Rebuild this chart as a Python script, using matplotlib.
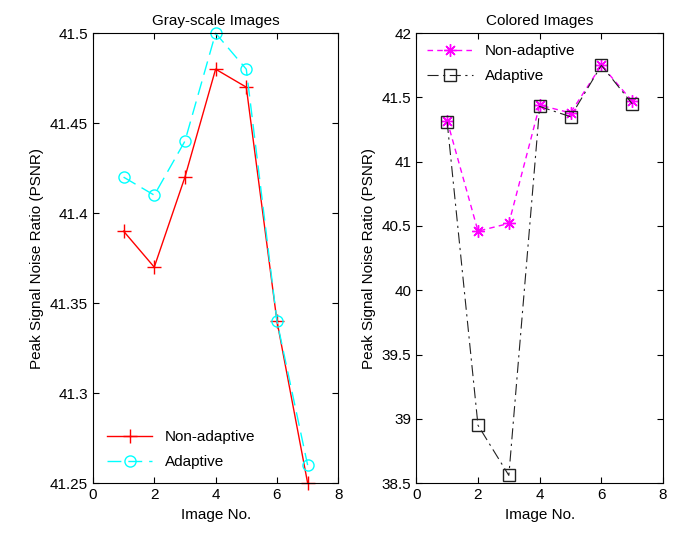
import matplotlib
matplotlib.use("Agg")
import matplotlib.pyplot as plt

plt.rcParams["font.family"] = ["Liberation Sans", "DejaVu Sans"]
plt.rcParams["font.size"] = 11

images = [1, 2, 3, 4, 5, 6, 7]

gray_nonadaptive = [41.39, 41.37, 41.42, 41.48, 41.47, 41.34, 41.25]
gray_adaptive = [41.42, 41.41, 41.44, 41.50, 41.48, 41.34, 41.26]

color_nonadaptive = [41.32, 40.46, 40.52, 41.44, 41.38, 41.75, 41.47]
color_adaptive = [41.31, 38.95, 38.56, 41.43, 41.35, 41.75, 41.45]

gray_yticks = [41.25, 41.3, 41.35, 41.4, 41.45, 41.5]
gray_yticklabels = ["41.25", "41.3", "41.35", "41.4", "41.45", "41.5"]
color_yticks = [38.5, 39, 39.5, 40, 40.5, 41, 41.5, 42]
color_yticklabels = ["38.5", "39", "39.5", "40", "40.5", "41", "41.5", "42"]
xticks = [0, 2, 4, 6, 8]

fig = plt.figure(figsize=(6.78, 5.35), dpi=100)
ax1 = fig.add_axes([0.137, 0.097, 0.362, 0.841])
ax2 = fig.add_axes([0.614, 0.097, 0.364, 0.841])


def style_axes(ax):
    ax.tick_params(direction="in", top=True, right=True, length=4, labelsize=11)
    for sp in ax.spines.values():
        sp.set_linewidth(0.8)


ax1.plot(images, gray_nonadaptive, color="red", linestyle="-", marker="+",
         markersize=10, linewidth=1, label="Non-adaptive", clip_on=False)
ax1.plot(images, gray_adaptive, color="cyan", linestyle=(0, (10, 5)), marker="o",
         markersize=8, markerfacecolor="none", linewidth=1, label="Adaptive", clip_on=False)
ax1.set_xlim(0, 8)
ax1.set_ylim(41.25, 41.5)
ax1.set_xticks(xticks)
ax1.set_yticks(gray_yticks)
ax1.set_yticklabels(gray_yticklabels)
ax1.set_xlabel("Image No.")
ax1.set_ylabel("Peak Signal Noise Ratio (PSNR)")
ax1.set_title("Gray-scale Images", fontsize=11)
style_axes(ax1)
ax1.legend(loc="lower left", frameon=False, fontsize=11, handlelength=3,
           borderaxespad=0.5, labelspacing=0.75)

ax2.plot(images, color_nonadaptive, color="magenta", linestyle=(0, (4, 3)), marker=(8, 2, 0),
         markersize=9, linewidth=1, label="Non-adaptive", clip_on=False)
ax2.plot(images, color_adaptive, color="#222222", linestyle=(0, (10, 4, 2, 4)), marker="s",
         markersize=8, markerfacecolor="none", linewidth=0.8, label="Adaptive", clip_on=False)
ax2.set_xlim(0, 8)
ax2.set_ylim(38.5, 42)
ax2.set_xticks(xticks)
ax2.set_yticks(color_yticks)
ax2.set_yticklabels(color_yticklabels)
ax2.set_xlabel("Image No.")
ax2.set_ylabel("Peak Signal Noise Ratio (PSNR)")
ax2.set_title("Colored Images", fontsize=11)
style_axes(ax2)
ax2.legend(loc="upper left", frameon=False, fontsize=11, handlelength=3,
           borderaxespad=0.3, labelspacing=0.75)

fig.savefig("out.png", dpi=100)
